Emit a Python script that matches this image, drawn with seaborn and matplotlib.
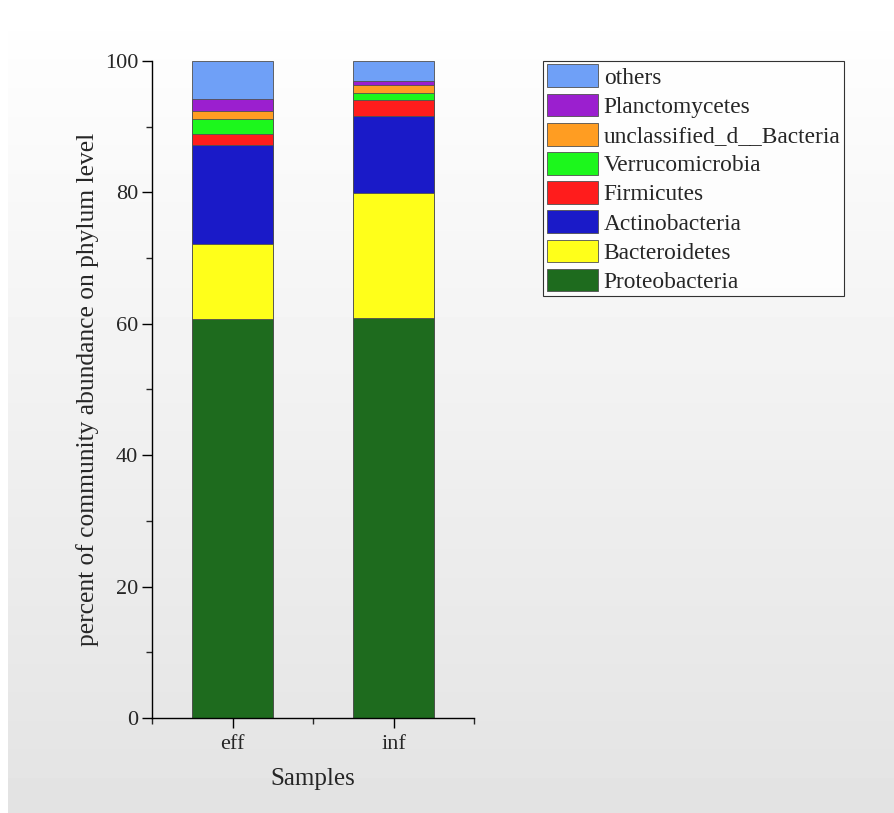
import numpy as np
import matplotlib
matplotlib.use("Agg")
import matplotlib.pyplot as plt
import seaborn as sns
from matplotlib.patches import Patch
from matplotlib.ticker import MultipleLocator

# data (percent)
samples = ["eff", "inf"]
phyla = ["Proteobacteria", "Bacteroidetes", "Actinobacteria", "Firmicutes",
         "Verrucomicrobia", "unclassified_d__Bacteria", "Planctomycetes", "others"]
eff_vals = [60.7, 11.4, 15.1, 1.7, 2.3, 1.2, 1.8, 5.8]
inf_vals = [60.9, 19.0, 11.8, 2.4, 1.0, 1.2, 0.6, 3.1]
colors = ["#1e6b1e", "#ffff1a", "#1a1ac8", "#ff1c1c",
          "#1cf71c", "#ff9d22", "#9b1fcf", "#6fa0f7"]

sns.set_style("ticks")
plt.rcParams["font.family"] = ["Liberation Serif", "DejaVu Serif"]

fig = plt.figure(figsize=(8.94, 8.13), dpi=100)
fig.patch.set_facecolor("white")

# gradient background
bg = fig.add_axes([8 / 894, 0, 1 - 8 / 894, 1], zorder=-10)
grad = np.linspace(1.0, 0.89, 256).reshape(-1, 1)
bg.imshow(grad, aspect="auto", cmap="gray", vmin=0, vmax=1, extent=[0, 1, 0, 1])
bg.axis("off")

ax = fig.add_axes([152 / 894, 95 / 813, 322 / 894, 657 / 813])
ax.patch.set_alpha(0)

# stacked bars: draw cumulative totals from top layer down
cum_eff = np.cumsum(eff_vals)
cum_inf = np.cumsum(inf_vals)
for i in range(len(phyla) - 1, -1, -1):
    sns.barplot(x=samples, y=[cum_eff[i], cum_inf[i]], color=colors[i],
                width=0.5, edgecolor="#505050", linewidth=0.6, ax=ax,
                saturation=1)

ax.set_xlim(-0.5, 1.5)
ax.set_ylim(0, 100)
ax.yaxis.set_major_locator(MultipleLocator(20))
ax.yaxis.set_minor_locator(MultipleLocator(10))
ax.xaxis.set_minor_locator(MultipleLocator(0.5))
ax.tick_params(axis="both", which="major", direction="out", length=7, width=1,
               labelsize=16, color="black")
ax.tick_params(axis="both", which="minor", direction="out", length=4, width=1)
ax.tick_params(axis="y", pad=3)
ax.tick_params(axis="x", pad=5)
sns.despine(ax=ax)
for s in ["left", "bottom"]:
    ax.spines[s].set_linewidth(1)
    ax.spines[s].set_color("black")

ax.set_xlabel("Samples", fontsize=18, labelpad=10)
ax.set_ylabel("percent of community abundance on phylum level", fontsize=18.4,
              labelpad=4)

handles = [Patch(facecolor=colors[i], edgecolor="#505050", linewidth=0.6, label=phyla[i])
           for i in range(len(phyla) - 1, -1, -1)]
leg = fig.legend(handles=handles, loc="upper left", bbox_to_anchor=(543 / 894, 752 / 813),
                 fontsize=16.8, frameon=True, fancybox=False, handlelength=2.2,
                 handleheight=1.12, labelspacing=0.21, handletextpad=0.25,
                 borderpad=0.15, borderaxespad=0)
leg.get_frame().set_edgecolor("black")
leg.get_frame().set_linewidth(0.8)

fig.savefig("out.png", dpi=100)
